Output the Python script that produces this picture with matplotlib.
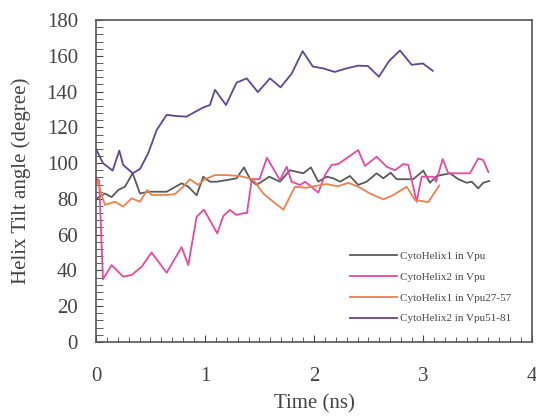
import matplotlib
matplotlib.use("Agg")
import matplotlib.pyplot as plt
from matplotlib.ticker import MultipleLocator

# Data (time in ns, tilt angle in degrees)
t_h1_vpu = [0, 0.083, 0.144, 0.205, 0.266, 0.337, 0.404, 0.48, 0.649, 0.786, 0.847, 0.924,
            0.984, 1.046, 1.107, 1.199, 1.29, 1.358, 1.419, 1.474, 1.59, 1.688, 1.78, 1.902,
            1.972, 2.04, 2.117, 2.177, 2.239, 2.33, 2.406, 2.483, 2.575, 2.636, 2.704, 2.759,
            2.911, 3.003, 3.064, 3.126, 3.248, 3.324, 3.401, 3.447, 3.507, 3.553, 3.608]
h1_vpu = [80, 83, 81, 85, 86.8, 94.3, 83, 84, 84, 88.7, 86.8, 82,
          92.4, 89.6, 89.6, 90.5, 91.5, 97.6, 90.5, 87.8, 92.4, 89.6, 96, 94.3,
          97.6, 89.6, 92.4, 91.5, 89.6, 92.8, 87.8, 89.6, 94.3, 91.5, 94.6, 91,
          91, 95.8, 89, 92.8, 94.3, 91, 89, 89.6, 85.9, 89, 90]

t_h2_vpu = [0, 0.03, 0.064, 0.144, 0.25, 0.328, 0.419, 0.51, 0.649, 0.786, 0.847, 0.924,
            0.991, 1.113, 1.168, 1.229, 1.29, 1.352, 1.385, 1.43, 1.5, 1.569, 1.688, 1.75,
            1.795, 1.872, 1.92, 2.04, 2.10, 2.162, 2.223, 2.406, 2.468, 2.575, 2.667, 2.743,
            2.82, 2.865, 2.942, 2.988, 3.095, 3.12, 3.181, 3.232, 3.431, 3.507, 3.553, 3.6]
h2_vpu = [92, 90, 35, 43, 36.5, 37.5, 42, 50, 38.7, 53, 43, 70,
          74, 60.7, 70.4, 73.8, 71, 72, 72, 91, 91, 103, 90.5, 98,
          89.6, 87.8, 89.6, 83.5, 93.3, 99, 99.5, 107.3, 98.4, 103.6, 98, 96,
          99.5, 99, 78.4, 92.4, 92.4, 89.6, 102.3, 94.3, 94.3, 102.6, 101.7, 95]

t_h1_vpu2757 = [0, 0.083, 0.174, 0.25, 0.328, 0.404, 0.471, 0.51, 0.649, 0.725, 0.8, 0.862,
                0.938, 1.0, 1.092, 1.199, 1.321, 1.44, 1.535, 1.627, 1.72, 1.826, 1.933, 2.01,
                2.117, 2.22, 2.315, 2.406, 2.514, 2.636, 2.73, 2.85, 2.927, 3.049, 3.15]
h1_vpu2757 = [92, 76.6, 78.4, 75.7, 80.3, 78.4, 85, 82.2, 82.2, 82.7, 86.8, 91,
              87.8, 91, 93.3, 93.3, 92.8, 91, 83, 78.4, 74, 86.8, 86.2, 87.2,
              88.3, 87, 89, 86.8, 83, 79.7, 82.2, 86.8, 79.4, 78.2, 87.5]

t_h2_vpu5181 = [0, 0.064, 0.153, 0.214, 0.25, 0.337, 0.404, 0.48, 0.557, 0.649, 0.74, 0.832,
                0.89, 0.98, 1.046, 1.092, 1.193, 1.29, 1.383, 1.486, 1.596, 1.694, 1.795, 1.896,
                1.99, 2.083, 2.19, 2.3, 2.404, 2.495, 2.596, 2.688, 2.789, 2.896, 3.0, 3.09]
h2_vpu5181 = [108, 100, 95.8, 107, 99, 94.3, 96.7, 105.6, 118.5, 127, 126.3, 126,
              128, 131, 132.5, 141, 132.5, 145, 147.4, 139.7, 147.4, 142.4, 150, 162.6,
              154, 153, 151, 153, 154.5, 154.3, 148.3, 157, 163, 155, 155.7, 151.6]

labels = ["CytoHelix1 in Vpu", "CytoHelix2 in Vpu",
          "CytoHelix1 in Vpu27-57", "CytoHelix2 in Vpu51-81"]
colors = ["#5a5a5a", "#e8489e", "#f0804c", "#5a4896"]

plt.rcParams["font.family"] = ["Liberation Serif", "DejaVu Serif"]

fig = plt.figure(figsize=(5.36, 4.18), dpi=100)
ax = fig.add_axes([0.179, 0.182, 0.8135, 0.770])

series = [(t_h1_vpu, h1_vpu), (t_h2_vpu, h2_vpu),
          (t_h1_vpu2757, h1_vpu2757), (t_h2_vpu5181, h2_vpu5181)]
for (t, v), lab, c in zip(series, labels, colors):
    ax.plot(t, v, color=c, lw=1.3, label=lab)

ax.set_xlim(0, 4)
ax.set_ylim(0, 180)
ax.xaxis.set_major_locator(MultipleLocator(1))
ax.xaxis.set_minor_locator(MultipleLocator(0.1))
ax.yaxis.set_major_locator(MultipleLocator(20))
ax.yaxis.set_minor_locator(MultipleLocator(4))

ax.tick_params(axis="both", which="both", direction="in", colors="#444444",
               labelcolor="#444444", labelsize=15, top=False, right=False)
ax.tick_params(axis="x", which="major", length=5, pad=18)
ax.tick_params(axis="x", which="minor", length=3.5)
ax.tick_params(axis="y", which="major", length=5, pad=13)
ax.tick_params(axis="y", which="minor", length=5)
for s in ax.spines.values():
    s.set_color("#555555")
    s.set_linewidth(1.2)

ax.set_xlabel("Time (ns)", fontsize=15, color="#444444", labelpad=6)
ax.set_ylabel("Helix Tilt angle (degree)", fontsize=15, color="#444444", labelpad=11)

ax.legend(loc="center left", bbox_to_anchor=(0.56, 0.17), frameon=False,
          fontsize=8, handlelength=4.2, handletextpad=0.3, labelspacing=1.0,
          labelcolor="#444444")

fig.savefig("out.png", dpi=100)
